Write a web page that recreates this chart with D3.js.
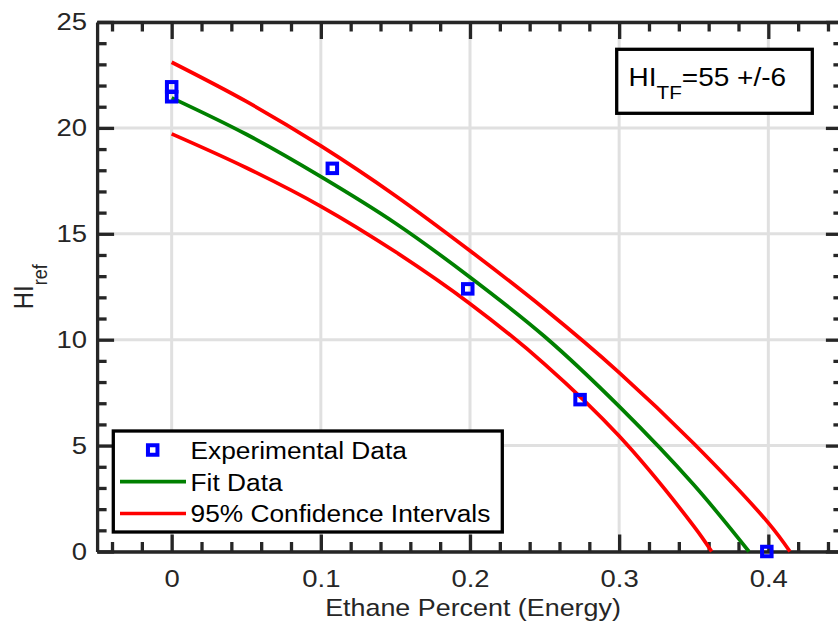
<!DOCTYPE html>
<html>
<head>
<meta charset="utf-8">
<script src="https://cdn.jsdelivr.net/npm/d3@7"></script>
<style>
  html, body { margin: 0; padding: 0; background: #fff; }
  svg { display: block; font-family: "Liberation Sans", Arial, Helvetica, sans-serif; }
</style>
</head>
<body>
<svg id="chart" width="838" height="630"></svg>
<script>
// ---------------- data ----------------
const expX = [0, 0, 0.1077, 0.1985, 0.2738, 0.399];
const expY = [21.94, 21.47, 18.09, 12.40, 7.17, 0.0];

const fitX = [0, 0.05, 0.1, 0.15, 0.2, 0.25, 0.3, 0.35, 0.387];
const fitY = [21.42, 19.7, 17.7, 15.5, 12.95, 10.15, 6.85, 3.15, 0];

const upX = [0, 0.05, 0.1, 0.15, 0.2, 0.25, 0.3, 0.35, 0.4, 0.4145];
const upY = [23.1, 21.25, 19.15, 16.8, 14.2, 11.45, 8.45, 5.1, 1.35, 0];

const loX = [0, 0.05, 0.1, 0.15, 0.2, 0.25, 0.3, 0.35, 0.362];
const loY = [19.72, 18.12, 16.3, 14.15, 11.7, 8.85, 5.45, 1.2, 0];

const xTicks = [0, 0.1, 0.2, 0.3, 0.4];
const xTickLabels = ["0", "0.1", "0.2", "0.3", "0.4"];
const yTicks = [0, 5, 10, 15, 20, 25];
const yTickLabels = ["0", "5", "10", "15", "20", "25"];
const legendLabels = ["Experimental Data", "Fit Data", "95% Confidence Intervals"];
const xLabel = "Ethane Percent (Energy)";
const annot = ["HI", "TF", "=55 +/-6"];
const yLabel = ["HI", "ref"];

// ---------------- layout ----------------
const L = 97.1, R = 842.9, T = 22, B = 551.5;
const SX = 1.12;
const AX = "#262626";
const svg = d3.select("#chart");

const x = d3.scaleLinear().domain([-0.05, 0.45]).range([L, R]);
const y = d3.scaleLinear().domain([0, 25]).range([B, T]);

const xMinor = d3.range(-4, 45, 2).map(d => +(d / 100).toFixed(2)).filter(d => !xTicks.some(t => Math.abs(t - d) < 1e-9));
const yMinor = d3.range(0, 26, 1).filter(d => d % 5 !== 0);

// grid
const grid = svg.append("g");
grid.selectAll("line.gx").data(xTicks).join("line")
  .attr("x1", d => x(d)).attr("x2", d => x(d)).attr("y1", T).attr("y2", B)
  .attr("stroke", "#e0e0e0").attr("stroke-width", 3);
grid.selectAll("line.gy").data(yTicks).join("line")
  .attr("y1", d => y(d)).attr("y2", d => y(d)).attr("x1", L).attr("x2", R)
  .attr("stroke", "#e0e0e0").attr("stroke-width", 3);

// axes
function styleAxis(g) {
  g.selectAll("path.domain").attr("stroke", AX).attr("stroke-width", 3.3);
  g.selectAll(".tick line").attr("stroke", AX).attr("stroke-width", 3.3);
  g.selectAll(".tick text").attr("fill", AX);
}
const MAJ = 17, MIN = 9.5;
const axes = svg.append("g");

const gB = axes.append("g").attr("transform", `translate(0,${B})`)
  .call(d3.axisBottom(x).tickValues(xTicks).tickFormat((d, i) => xTickLabels[i]).tickSize(-MAJ).tickSizeOuter(0).tickPadding(18));
gB.call(styleAxis);
gB.selectAll(".tick text").attr("font-size", 24.5).attr("font-family", null).attr("transform", `scale(${SX},1)`);
axes.append("g").attr("transform", `translate(0,${B})`)
  .call(d3.axisBottom(x).tickValues(xMinor).tickFormat("").tickSize(-MIN).tickSizeOuter(0))
  .call(styleAxis).call(g => g.select(".domain").remove());

const gL = axes.append("g").attr("transform", `translate(${L},0)`)
  .call(d3.axisLeft(y).tickValues(yTicks).tickFormat((d, i) => yTickLabels[i]).tickSize(-MAJ).tickSizeOuter(0).tickPadding(9));
gL.call(styleAxis);
gL.selectAll(".tick text").attr("font-size", 24.5).attr("font-family", null).attr("transform", `scale(${SX},1)`);
axes.append("g").attr("transform", `translate(${L},0)`)
  .call(d3.axisLeft(y).tickValues(yMinor).tickFormat("").tickSize(-MIN).tickSizeOuter(0))
  .call(styleAxis).call(g => g.select(".domain").remove());

axes.append("g").attr("transform", `translate(0,${T})`)
  .call(d3.axisTop(x).tickValues(xTicks).tickFormat("").tickSize(-MAJ).tickSizeOuter(0)).call(styleAxis);
axes.append("g").attr("transform", `translate(0,${T})`)
  .call(d3.axisTop(x).tickValues(xMinor).tickFormat("").tickSize(-MIN).tickSizeOuter(0))
  .call(styleAxis).call(g => g.select(".domain").remove());
axes.append("g").attr("transform", `translate(${R},0)`)
  .call(d3.axisRight(y).tickValues(yTicks).tickFormat("").tickSize(-MAJ).tickSizeOuter(0)).call(styleAxis);
axes.append("g").attr("transform", `translate(${R},0)`)
  .call(d3.axisRight(y).tickValues(yMinor).tickFormat("").tickSize(-MIN).tickSizeOuter(0))
  .call(styleAxis).call(g => g.select(".domain").remove());

// stretched text helper
function stext(parent, tx, ty, size, anchor, extra) {
  const g = parent.append("g").attr("transform", `translate(${tx},${ty}) ${extra || `scale(${SX},1)`}`);
  return g.append("text").attr("font-size", size).attr("text-anchor", anchor);
}

// axis labels
stext(svg, 473, 616, 24, "middle").attr("fill", AX).text(xLabel);
const yl = stext(svg, 33.3, 286.7, 24, "middle", `scale(${SX},1) rotate(-90)`).attr("fill", AX);
yl.append("tspan").text(yLabel[0]);
yl.append("tspan").attr("dy", 12).attr("font-size", 18).text(yLabel[1]);

// curves
const line = d3.line().x(d => x(d[0])).y(d => y(d[1])).curve(d3.curveCatmullRom.alpha(0.5));
const plot = svg.append("g");
const curves = [
  { xs: upX, ys: upY, c: "#ff0000" },
  { xs: loX, ys: loY, c: "#ff0000" },
  { xs: fitX, ys: fitY, c: "#008000" }
];
curves.forEach(cv => {
  plot.append("path").datum(cv.xs.map((v, i) => [v, cv.ys[i]]))
    .attr("d", line).attr("fill", "none").attr("stroke", cv.c).attr("stroke-width", 3.7);
});

// markers
const MS = 9.5;
plot.selectAll("rect.pt").data(expX.map((v, i) => [v, expY[i]])).join("rect")
  .attr("x", d => x(d[0]) - MS / 2).attr("y", d => y(d[1]) - MS / 2)
  .attr("width", MS).attr("height", MS)
  .attr("fill", "none").attr("stroke", "#0000ff").attr("stroke-width", 4);

// legend
const lg = svg.append("g");
lg.append("rect").attr("x", 113.3).attr("y", 431).attr("width", 389).attr("height", 101)
  .attr("fill", "#fff").attr("stroke", "#000").attr("stroke-width", 3.3);
const rowY = [450, 481.7, 513.5];
lg.append("rect").attr("x", 152.7 - MS / 2).attr("y", rowY[0] - MS / 2).attr("width", MS).attr("height", MS)
  .attr("fill", "none").attr("stroke", "#0000ff").attr("stroke-width", 4);
lg.append("line").attr("x1", 120).attr("x2", 186).attr("y1", rowY[1]).attr("y2", rowY[1])
  .attr("stroke", "#008000").attr("stroke-width", 3.7);
lg.append("line").attr("x1", 120).attr("x2", 186).attr("y1", rowY[2]).attr("y2", rowY[2])
  .attr("stroke", "#ff0000").attr("stroke-width", 3.7);
legendLabels.forEach((t, i) => {
  stext(lg, 190.5, rowY[i] + 8.8, 23.5, "start").attr("fill", "#000").text(t);
});

// annotation box
const an = svg.append("g");
an.append("rect").attr("x", 616.7).attr("y", 49.3).attr("width", 195.6).attr("height", 64)
  .attr("fill", "#fff").attr("stroke", "#000").attr("stroke-width", 3.3);
const at = stext(an, 628.5, 86, 25, "start").attr("fill", "#000");
at.append("tspan").text(annot[0]);
at.append("tspan").attr("dy", 13).attr("font-size", 18.5).text(annot[1]);
at.append("tspan").attr("dy", -13).text(annot[2]);
</script>
</body>
</html>
